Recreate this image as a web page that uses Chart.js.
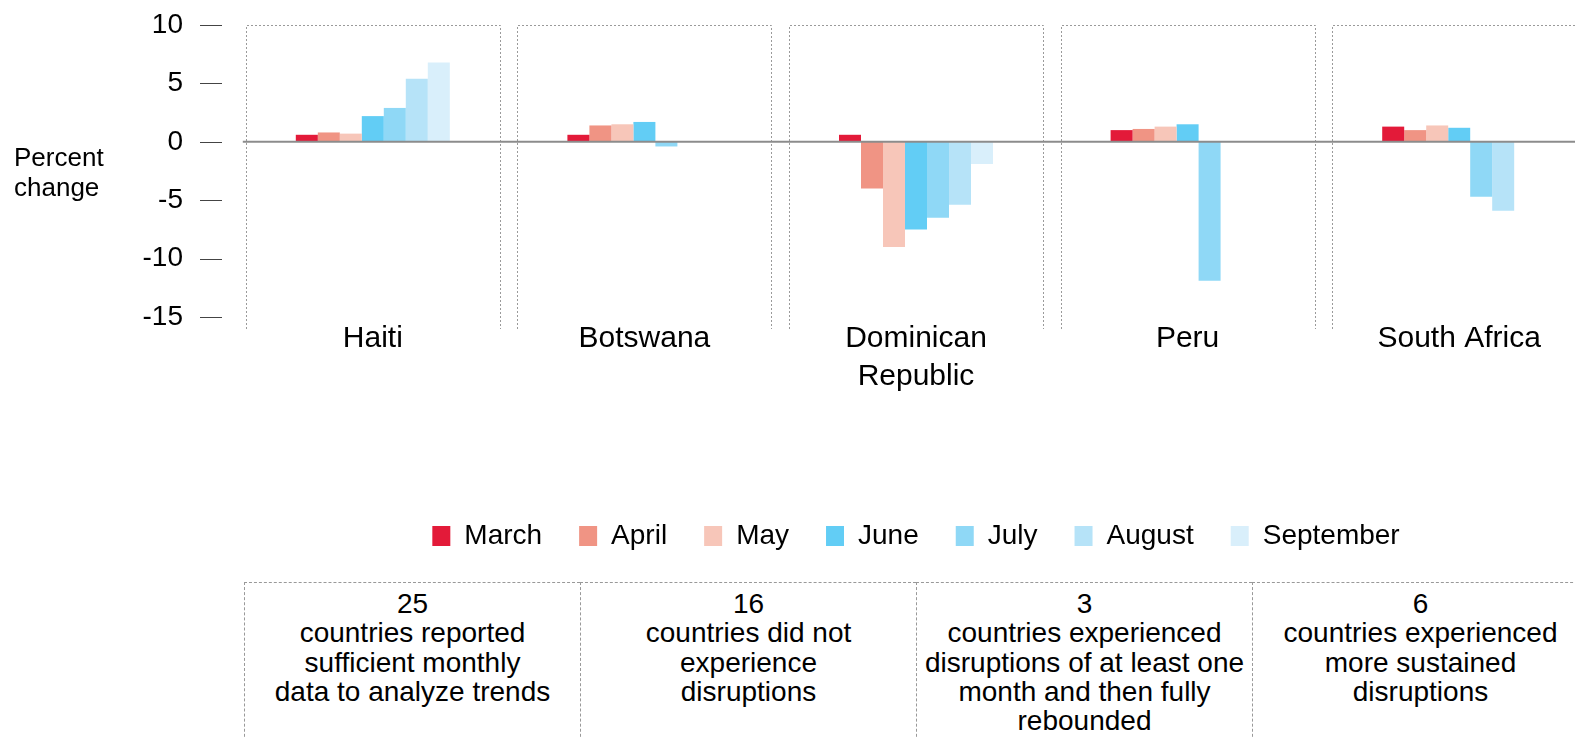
<!DOCTYPE html>
<html lang="en">
<head>
<meta charset="utf-8">
<title>Percent change by country</title>
<script src="https://cdn.jsdelivr.net/npm/chart.js"></script>
<style>
  body { margin: 0; background: #fff; overflow: hidden; font-family: "Liberation Sans", Arial, sans-serif; color: #000; }
  #wrap { position: absolute; left: 0; top: 0; width: 1600px; height: 560px; }
  #ytitle { position: absolute; left: 14px; top: 143px; font-size: 26px; line-height: 29.5px; }
  #notes { position: absolute; left: 244px; top: 582px; display: flex; }
  #notes div { width: 336px; height: 170px; box-sizing: border-box; border-top: 1px dashed #999; border-left: 1px dashed #999;
    text-align: center; font-size: 28px; line-height: 29.3px; padding-top: 6px; }
</style>
</head>
<body>
<div id="wrap"><canvas id="chart"></canvas></div>
<div id="ytitle">Percent<br>change</div>
<div id="notes">
  <div>25<br>countries reported<br>sufficient monthly<br>data to analyze trends</div>
  <div>16<br>countries did not<br>experience<br>disruptions</div>
  <div>3<br>countries experienced<br>disruptions of at least one<br>month and then fully<br>rebounded</div>
  <div>6<br>countries experienced<br>more sustained<br>disruptions</div>
</div>
<script>
// data
const countries = ['Haiti', 'Botswana', ['Dominican', 'Republic'], 'Peru', 'South Africa'];
const months = ['March', 'April', 'May', 'June', 'July', 'August', 'September'];
const march     = [0.6, 0.6, 0.6, 1.0, 1.3];
const april     = [0.8, 1.4, -4.0, 1.1, 1.0];
const may       = [0.7, 1.5, -9.0, 1.3, 1.4];
const june      = [2.2, 1.7, -7.5, 1.5, 1.2];
const july      = [2.9, -0.4, -6.5, -11.9, -4.7];
const august    = [5.4, null, -5.4, null, -5.9];
const september = [6.8, null, -1.9, null, null];
const yTicks = [10, 5, 0, -5, -10, -15];

const colors = ['#e31a39', '#f09484', '#f7c6b9', '#62cdf5', '#8fd8f6', '#b6e3f8', '#d9effb'];
const series = [march, april, may, june, july, august, september];

const font = '"Liberation Sans", Arial, sans-serif';

// dotted panels, y tick marks and the zero line
const decor = {
  id: 'decor',
  beforeDatasetsDraw(chart) {
    const { ctx, chartArea, scales: { x, y } } = chart;
    ctx.save();
    ctx.strokeStyle = '#9a9a9a';
    ctx.lineWidth = 1;
    ctx.setLineDash([2, 2]);
    const top = Math.round(y.getPixelForValue(10)) + 0.5;
    const bottom = chartArea.bottom + 12;
    countries.forEach((c, i) => {
      const cx = x.getPixelForValue(i);
      const l = Math.round(cx - 127) + 0.5, r = Math.round(cx + 127) + 0.5;
      ctx.beginPath();
      ctx.moveTo(l, bottom); ctx.lineTo(l, top); ctx.lineTo(r, top); ctx.lineTo(r, bottom);
      ctx.stroke();
    });
    ctx.setLineDash([]);
    ctx.strokeStyle = '#444';
    y.ticks.forEach(t => {
      const py = Math.round(y.getPixelForValue(t.value)) + 0.5;
      ctx.beginPath();
      ctx.moveTo(chartArea.left - 37, py);
      ctx.lineTo(chartArea.left - 15, py);
      ctx.stroke();
    });
    ctx.restore();
  },
  afterDatasetsDraw(chart) {
    const { ctx, scales: { x, y } } = chart;
    const py = y.getPixelForValue(0);
    ctx.save();
    ctx.strokeStyle = '#8c8c8c';
    ctx.lineWidth = 2;
    ctx.beginPath();
    ctx.moveTo(x.getPixelForValue(0) - 130, py);
    ctx.lineTo(chart.width, py);
    ctx.stroke();
    ctx.restore();
  }
};

new Chart(document.getElementById('chart'), {
  type: 'bar',
  data: {
    labels: countries,
    datasets: months.map((m, i) => ({
      label: m,
      data: series[i],
      backgroundColor: colors[i],
      borderWidth: 0,
      barPercentage: 1,
      categoryPercentage: 0.567
    }))
  },
  options: {
    responsive: true,
    maintainAspectRatio: false,
    animation: false,
    layout: { padding: { top: 25, right: 5, left: 0, bottom: 0 } },
    plugins: {
      tooltip: { enabled: false },
      legend: {
        position: 'bottom',
        fullSize: false,
        labels: { boxWidth: 18, boxHeight: 20, padding: 37, color: '#000', font: { family: font, size: 28 } }
      }
    },
    scales: {
      x: {
        grid: { display: false, drawTicks: false },
        border: { display: false },
        ticks: { color: '#000', padding: 3, maxRotation: 0, autoSkip: false, font: { family: font, size: 30, lineHeight: 1.27 } },
        afterFit(scale) { scale.height = 168; }
      },
      y: {
        min: -15,
        max: 10,
        afterBuildTicks(scale) { scale.ticks = yTicks.map(v => ({ value: v })); },
        // tick length only pushes the labels left; the marks are drawn by the plugin
        grid: { display: false, drawTicks: true, tickLength: 54 },
        border: { display: false },
        ticks: { color: '#000', padding: 0, font: { family: font, size: 28 } },
        afterFit(scale) { scale.width = 237; }
      }
    }
  },
  plugins: [decor]
});
</script>
</body>
</html>
